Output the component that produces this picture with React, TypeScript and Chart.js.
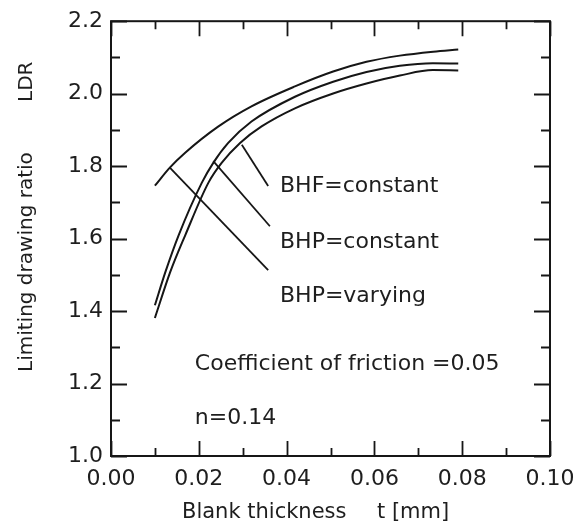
import React, { useEffect, useRef } from "react";
import { Chart, registerables } from "chart.js";

Chart.register(...registerables);

// Blank thickness t [mm] and LDR values
const thicknessBhpVarying = [0.01, 0.0134, 0.0169, 0.0244, 0.032, 0.0419, 0.0506, 0.0582, 0.0658, 0.0734, 0.0791];
const ldrBhpVarying = [1.746, 1.796, 1.837, 1.909, 1.965, 2.02, 2.061, 2.088, 2.105, 2.116, 2.122];

const thicknessBhpConstant = [0.01, 0.0124, 0.0154, 0.0207, 0.0233, 0.0267, 0.032, 0.0419, 0.0506, 0.0582, 0.0658, 0.0733, 0.0791];
const ldrBhpConstant = [1.416, 1.508, 1.609, 1.7545, 1.809, 1.864, 1.923, 1.9915, 2.033, 2.06, 2.077, 2.084, 2.083];

const thicknessBhfConstant = [0.01, 0.0135, 0.0169, 0.0222, 0.0252, 0.0294, 0.0343, 0.0419, 0.0506, 0.0582, 0.0658, 0.0733, 0.0791];
const ldrBhfConstant = [1.381, 1.508, 1.609, 1.7545, 1.809, 1.864, 1.9095, 1.9596, 2.0005, 2.028, 2.05, 2.065, 2.064];

// leader lines (from curve to label)
const leaderBhfX = [0.0298, 0.0358];
const leaderBhfY = [1.859, 1.745];
const leaderBhpConstX = [0.0233, 0.0362];
const leaderBhpConstY = [1.814, 1.634];
const leaderBhpVarX = [0.0134, 0.0358];
const leaderBhpVarY = [1.796, 1.513];

const xTickValues = [0, 0.02, 0.04, 0.06, 0.08, 0.1];
const yTickValues = [1.0, 1.2, 1.4, 1.6, 1.8, 2.0, 2.2];

const labelBhf = "BHF=constant";
const labelBhpConst = "BHP=constant";
const labelBhpVar = "BHP=varying";
const noteFriction = "Coefficient of friction =0.05";
const noteN = "n=0.14";
const xTitleA = "Blank thickness";
const xTitleB = "t [mm]";
const yTitleA = "Limiting drawing ratio";
const yTitleB = "LDR";

const FONT = "'DejaVu Sans', sans-serif";
const INK = "#161616";
const TEXT = "#1e1e1e";

const zip = (xs: number[], ys: number[]) => xs.map((x, i) => ({ x, y: ys[i] }));

const framePlugin = {
  id: "framePlugin",
  afterDraw(chart: any) {
    const { ctx, chartArea: a, scales } = chart;
    const xs = scales.x;
    const ys = scales.y;
    ctx.save();
    ctx.strokeStyle = INK;
    ctx.lineWidth = 2;
    ctx.strokeRect(a.left, a.top, a.right - a.left, a.bottom - a.top);
    ctx.lineWidth = 1.8;
    for (let i = 0; i <= 10; i++) {
      const px = Math.round(xs.getPixelForValue(i * 0.01)) + 0.5;
      const len = i % 2 === 0 ? 15 : 8;
      ctx.beginPath();
      ctx.moveTo(px, a.bottom);
      ctx.lineTo(px, a.bottom - len);
      ctx.moveTo(px, a.top);
      ctx.lineTo(px, a.top + len);
      ctx.stroke();
    }
    for (let i = 0; i <= 12; i++) {
      const py = Math.round(ys.getPixelForValue(1 + i * 0.1)) + 0.5;
      const len = i % 2 === 0 ? 16 : 9;
      ctx.beginPath();
      ctx.moveTo(a.left, py);
      ctx.lineTo(a.left + len, py);
      ctx.moveTo(a.right, py);
      ctx.lineTo(a.right - len, py);
      ctx.stroke();
    }
    ctx.fillStyle = TEXT;
    ctx.font = `22px ${FONT}`;
    ctx.textBaseline = "middle";
    ctx.textAlign = "left";
    const lx = xs.getPixelForValue(0.0385);
    ctx.fillText(labelBhf, lx, ys.getPixelForValue(1.744));
    ctx.fillText(labelBhpConst, lx, ys.getPixelForValue(1.59));
    ctx.fillText(labelBhpVar, lx, ys.getPixelForValue(1.44));
    const nx = xs.getPixelForValue(0.0191);
    ctx.fillText(noteFriction, nx, ys.getPixelForValue(1.254));
    ctx.fillText(noteN, nx, ys.getPixelForValue(1.104));
    ctx.font = `21px ${FONT}`;
    ctx.textBaseline = "alphabetic";
    ctx.fillText(xTitleA, 182, 518);
    ctx.fillText(xTitleB, 377, 518);
    ctx.font = `20px ${FONT}`;
    ctx.save();
    ctx.translate(32, 372);
    ctx.rotate(-Math.PI / 2);
    ctx.fillText(yTitleA, 0, 0);
    ctx.restore();
    ctx.save();
    ctx.translate(32, 102);
    ctx.rotate(-Math.PI / 2);
    ctx.fillText(yTitleB, 0, 0);
    ctx.restore();
    ctx.restore();
  },
};

export default function App() {
  const ref = useRef<HTMLCanvasElement>(null);
  useEffect(() => {
    if (!ref.current) return;
    const curve = (xs: number[], ys: number[]) => ({
      data: zip(xs, ys),
      borderColor: INK,
      borderWidth: 2,
      pointRadius: 0,
      fill: false,
      cubicInterpolationMode: "monotone" as const,
    });
    const leader = (xs: number[], ys: number[]) => ({
      data: zip(xs, ys),
      borderColor: INK,
      borderWidth: 1.8,
      pointRadius: 0,
      fill: false,
      tension: 0,
    });
    const chart = new Chart(ref.current, {
      type: "line",
      data: {
        datasets: [
          curve(thicknessBhpVarying, ldrBhpVarying),
          curve(thicknessBhpConstant, ldrBhpConstant),
          curve(thicknessBhfConstant, ldrBhfConstant),
          leader(leaderBhfX, leaderBhfY),
          leader(leaderBhpConstX, leaderBhpConstY),
          leader(leaderBhpVarX, leaderBhpVarY),
        ],
      },
      options: {
        responsive: false,
        animation: false,
        layout: { padding: { left: 0, top: 17, right: 37, bottom: 0 } },
        plugins: { legend: { display: false }, tooltip: { enabled: false } },
        scales: {
          x: {
            type: "linear",
            min: 0,
            max: 0.1,
            afterBuildTicks: (s: any) => {
              s.ticks = xTickValues.map((v) => ({ value: v }));
            },
            afterFit: (s: any) => {
              s.height = 68;
            },
            ticks: {
              callback: (v: any) => Number(v).toFixed(2),
              font: { family: FONT, size: 22 },
              color: TEXT,
              padding: 10,
              maxRotation: 0,
            },
            grid: { display: false, drawTicks: false },
            border: { display: false },
          },
          y: {
            type: "linear",
            min: 1.0,
            max: 2.2,
            afterBuildTicks: (s: any) => {
              s.ticks = yTickValues.map((v) => ({ value: v }));
            },
            afterFit: (s: any) => {
              s.width = 111;
            },
            ticks: {
              callback: (v: any) => Number(v).toFixed(1),
              font: { family: FONT, size: 22 },
              color: TEXT,
              padding: 8,
            },
            grid: { display: false, drawTicks: false },
            border: { display: false },
          },
        },
      },
      plugins: [framePlugin],
    });
    return () => chart.destroy();
  }, []);
  return (
    <div style={{ position: "absolute", left: 0, top: 0, width: 587, height: 524, background: "#fff" }}>
      <canvas ref={ref} width={587} height={524} />
    </div>
  );
}
